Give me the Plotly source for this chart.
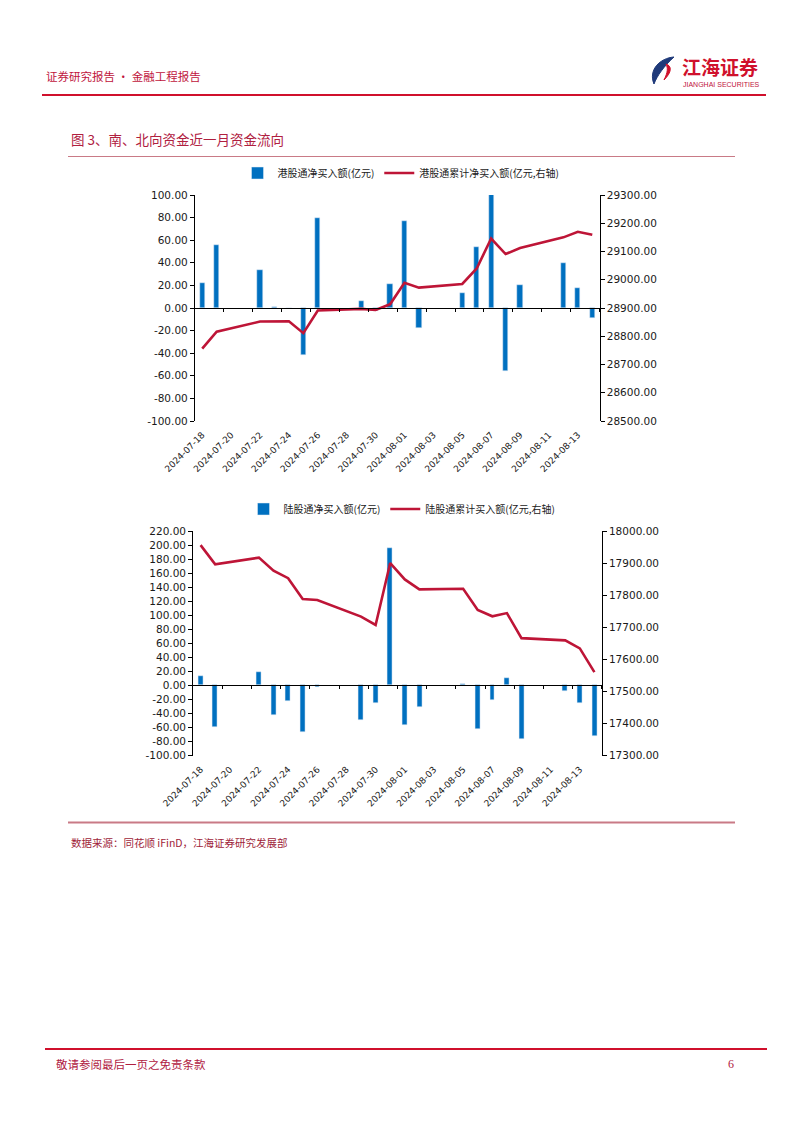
import plotly.graph_objects as go
import pandas as pd

W, H = 802, 1133
OFF = 8  # the page body margin shifts the figure by this many px

# ---------------- data ----------------
start_date = "2024-07-18"
end_date = "2024-08-14"
tick_dates = ["2024-07-18", "2024-07-20", "2024-07-22", "2024-07-24", "2024-07-26",
              "2024-07-28", "2024-07-30", "2024-08-01", "2024-08-03", "2024-08-05",
              "2024-08-07", "2024-08-09", "2024-08-11", "2024-08-13"]

trade_dates = ["2024-07-18", "2024-07-19", "2024-07-22", "2024-07-23", "2024-07-24",
               "2024-07-25", "2024-07-26", "2024-07-29", "2024-07-30", "2024-07-31",
               "2024-08-01", "2024-08-02", "2024-08-05", "2024-08-06", "2024-08-07",
               "2024-08-08", "2024-08-09", "2024-08-12", "2024-08-13", "2024-08-14"]

# 港股通 (southbound)
hk_net = [22, 56, 34, 1, 0, -42, 80, 6, -3, 21,
          77, -17.5, 13, 54, 101, -56, 20, 40, 17.5, -9]
hk_cum = [28756, 28816, 28852, 28853, 28853, 28811, 28891, 28897, 28893, 28913,
          28989, 28972, 28985, 29040, 29146, 29091, 29112, 29150, 29170, 29159]

# 陆股通 (northbound)
sh_net = [14, -59, 19.5, -42, -22, -66, -3, -49.5, -25, 196,
          -57, -31, 1.5, -62, -21, 10, -77, -7.5, -25, -72]
sh_cum = [17956, 17896, 17917, 17876, 17853, 17788, 17785, 17733, 17707, 17900,
          17849, 17818, 17820, 17754, 17734, 17744, 17666, 17659, 17634, 17560]

top_left_ticks = [-100, -80, -60, -40, -20, 0, 20, 40, 60, 80, 100]
top_right_ticks = [28500, 28600, 28700, 28800, 28900, 29000, 29100, 29200, 29300]
bot_left_ticks = [-100, -80, -60, -40, -20, 0, 20, 40, 60, 80, 100, 120, 140, 160, 180, 200, 220]
bot_right_ticks = [17300, 17400, 17500, 17600, 17700, 17800, 17900, 18000]

names_top = ["港股通净买入额(亿元)", "港股通累计净买入额(亿元,右轴)"]
names_bot = ["陆股通净买入额(亿元)", "陆股通累计买入额(亿元,右轴)"]

# --------------- helpers ---------------
t0 = pd.Timestamp(start_date)
ndays = (pd.Timestamp(end_date) - t0).days + 1


def idx(ds):
    return [(pd.Timestamp(d) - t0).days for d in ds]


x_trade = idx(trade_dates)
x_ticks = idx(tick_dates)
boundary_ticks = [i + 1.5 for i in range(0, ndays, 2)]


def fmt(vals):
    return [f"{v:.2f}" for v in vals]


FW, FH = W - OFF, H - OFF


def px(x):
    return (x - OFF) / FW


def py(y):
    return 1 - (y - OFF) / FH


BLUE = "#0070C0"
RED_LINE = "#BE1537"
HDR_RED = "#C0143C"
TXT = "#1a1a1a"
TICKFONT = dict(family="DejaVu Sans", size=10.5, color=TXT)
CJK = "Noto Sans CJK SC"

# plot areas in pixels
top_box = dict(x0=195, x1=599.5, y0=195, y1=421)
bot_box = dict(x0=193.3, x1=601.7, y0=531, y1=755.5)

top_ydom = [py(top_box["y1"]), py(top_box["y0"])]
bot_ydom = [py(bot_box["y1"]), py(bot_box["y0"])]
top_xdom = [px(top_box["x0"]), px(top_box["x1"])]
bot_xdom = [px(bot_box["x0"]), px(bot_box["x1"])]

top_range = [-100, 100]
bot_range = [-100, 220]
top_zero = top_ydom[0] + (0 - top_range[0]) / (top_range[1] - top_range[0]) * (top_ydom[1] - top_ydom[0])
bot_zero = bot_ydom[0] + (0 - bot_range[0]) / (bot_range[1] - bot_range[0]) * (bot_ydom[1] - bot_ydom[0])

fig = go.Figure()

# ---------------- top chart ----------------
fig.add_trace(go.Bar(x=x_trade, y=hk_net, name=names_top[0], marker_color=BLUE,
                     width=0.36, xaxis="x", yaxis="y", legend="legend"))
fig.add_trace(go.Scatter(x=x_trade, y=hk_cum, name=names_top[1], mode="lines",
                         line=dict(color=RED_LINE, width=2.6), xaxis="x", yaxis="y2",
                         legend="legend"))
fig.add_trace(go.Scatter(x=[x_trade[0]], y=[0], mode="markers", marker=dict(opacity=0),
                         showlegend=False, hoverinfo="skip", xaxis="x3", yaxis="y"))

# ---------------- bottom chart ----------------
fig.add_trace(go.Bar(x=x_trade, y=sh_net, name=names_bot[0], marker_color=BLUE,
                     width=0.34, xaxis="x2", yaxis="y3", legend="legend2"))
fig.add_trace(go.Scatter(x=x_trade, y=sh_cum, name=names_bot[1], mode="lines",
                         line=dict(color=RED_LINE, width=2.6), xaxis="x2", yaxis="y4",
                         legend="legend2"))
fig.add_trace(go.Scatter(x=[x_trade[0]], y=[0], mode="markers", marker=dict(opacity=0),
                         showlegend=False, hoverinfo="skip", xaxis="x4", yaxis="y3"))

xr = [-0.5, ndays - 0.5]

common_y = dict(showgrid=False, zeroline=False, showline=True, linecolor="#000", linewidth=1.3,
                ticks="outside", ticklen=4, tickcolor="#000", tickwidth=1.3,
                tickmode="array", tickfont=TICKFONT)

DATEFONT = dict(family="DejaVu Sans", size=9, color=TXT)

fig.update_layout(
    width=FW, height=FH, margin=dict(l=0, r=0, t=0, b=0, pad=0, autoexpand=False),
    paper_bgcolor="white", plot_bgcolor="rgba(0,0,0,0)",
    bargap=0, showlegend=True,
    xaxis=dict(domain=top_xdom, range=xr, anchor="free", position=top_zero,
               showgrid=False, zeroline=False, showline=True, linecolor="#000", linewidth=1.3,
               tickmode="array", tickvals=boundary_ticks, ticks="outside", ticklen=3,
               tickcolor="#000", tickwidth=1.2, showticklabels=False),
    xaxis3=dict(domain=top_xdom, range=xr, overlaying="x", anchor="y",
                showgrid=False, zeroline=False, showline=False,
                tickmode="array", tickvals=x_ticks, ticktext=tick_dates, tickangle=-45,
                ticks="", ticklabelstandoff=6, tickfont=DATEFONT),
    yaxis=dict(domain=top_ydom, range=top_range, anchor="x",
               tickvals=top_left_ticks, ticktext=fmt(top_left_ticks), **common_y),
    yaxis2=dict(range=[top_right_ticks[0], top_right_ticks[-1]], overlaying="y", side="right",
                anchor="x", tickvals=top_right_ticks, ticktext=fmt(top_right_ticks), **common_y),
    xaxis2=dict(domain=bot_xdom, range=xr, anchor="free", position=bot_zero,
                showgrid=False, zeroline=False, showline=True, linecolor="#000", linewidth=1.3,
                tickmode="array", tickvals=boundary_ticks, ticks="outside", ticklen=3,
                tickcolor="#000", tickwidth=1.2, showticklabels=False),
    xaxis4=dict(domain=bot_xdom, range=xr, overlaying="x2", anchor="y3",
                showgrid=False, zeroline=False, showline=False,
                tickmode="array", tickvals=x_ticks, ticktext=tick_dates, tickangle=-45,
                ticks="", ticklabelstandoff=6, tickfont=DATEFONT),
    yaxis3=dict(domain=bot_ydom, range=bot_range, anchor="x2",
                tickvals=bot_left_ticks, ticktext=fmt(bot_left_ticks), **common_y),
    yaxis4=dict(range=[bot_right_ticks[0], bot_right_ticks[-1]], overlaying="y3", side="right",
                anchor="x2", tickvals=bot_right_ticks, ticktext=fmt(bot_right_ticks), **common_y),
    legend=dict(orientation="h", x=px(401), xanchor="center", y=py(173), yanchor="middle",
                font=dict(family=CJK, size=10, color="#222"), itemwidth=30,
                bgcolor="rgba(0,0,0,0)", traceorder="normal"),
    legend2=dict(orientation="h", x=px(402), xanchor="center", y=py(509), yanchor="middle",
                 font=dict(family=CJK, size=10, color="#222"), itemwidth=30,
                 bgcolor="rgba(0,0,0,0)", traceorder="normal"),
)

# ---------------- page decoration ----------------
shapes = []


def hline(x0, x1, y, color, width):
    shapes.append(dict(type="line", xref="paper", yref="paper", x0=px(x0), x1=px(x1),
                       y0=py(y), y1=py(y), line=dict(color=color, width=width)))


hline(42, 766, 95, "#D0102C", 2)          # header rule
hline(68, 735, 156.5, "#C97A86", 1.2)     # title rule
hline(68, 735, 822.5, "#C97A86", 2)       # source rule
hline(45, 767, 1049, "#D0102C", 2)        # footer rule

# page border (right)
shapes.append(dict(type="line", xref="paper", yref="paper", x0=px(800.5), x1=px(800.5),
                   y0=0, y1=1, line=dict(color="#8a8a8a", width=1.2)))


def bez_path(cmds):
    out = []
    for c in cmds:
        if c[0] in "ML":
            out.append(f"{c[0]} {px(c[1]):.5f},{py(c[2]):.5f}")
        elif c[0] == "C":
            out.append("C " + " ".join(f"{px(c[i]):.5f},{py(c[i+1]):.5f}" for i in (1, 3, 5)))
        elif c[0] == "Z":
            out.append("Z")
    return " ".join(out)


shapes.append(dict(type="path", xref="paper", yref="paper",
                   path=bez_path([("M", 674, 57), ("C", 660, 58, 648, 70, 654, 84),
                                  ("C", 657, 76, 664, 66, 674, 57), ("Z",)]),
                   fillcolor="#1F3A7A", line=dict(color="#1F3A7A", width=1)))
shapes.append(dict(type="path", xref="paper", yref="paper",
                   path=bez_path([("M", 666, 64), ("C", 672, 66, 672, 72, 664, 80),
                                  ("C", 668, 72, 668, 68, 666, 64), ("Z",)]),
                   fillcolor="#D0102C", line=dict(color="#D0102C", width=1)))
fig.update_layout(shapes=shapes)

ann = []


def txt(x, y, s, size, color, anchor="left", family=CJK, bold=False):
    ann.append(dict(xref="paper", yref="paper", x=px(x), y=py(y), text=(f"<b>{s}</b>" if bold else s),
                    showarrow=False, xanchor=anchor, yanchor="middle",
                    font=dict(family=family, size=size, color=color)))


txt(44, 76, "证券研究报告 · 金融工程报告", 11.5, HDR_RED)
txt(720, 66, "江海证券", 19, "#D0102C", anchor="center", bold=True)
txt(721, 84, "JIANGHAI SECURITIES", 7, "#C0143C", anchor="center", family="Liberation Sans")
txt(69, 139, "图 3、南、北向资金近一月资金流向", 13.5, "#B0203F")
txt(69, 842, "数据来源：同花顺 iFinD，江海证券研究发展部", 10.5, "#A01E3A")
txt(54, 1064, "敬请参阅最后一页之免责条款", 11.5, "#B0203F")
txt(731, 1064, "6", 12, "#B0203F", anchor="center", family="Liberation Serif")
fig.update_layout(annotations=ann)

fig.write_html("out.html")
